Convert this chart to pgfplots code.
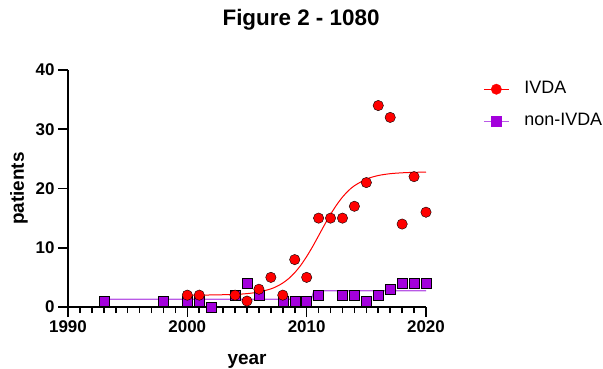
\documentclass[border=0pt]{standalone}
\usepackage{fontspec}
\setmainfont{Liberation Sans}
\usepackage{pgfplots}
\pgfplotsset{compat=1.18}
\definecolor{ivda}{RGB}{255,0,0}
\definecolor{nonivda}{RGB}{163,0,220}
\definecolor{nonline}{RGB}{185,90,230}
\begin{document}
\begin{tikzpicture}
\path[use as bounding box] (0,0) rectangle (603bp,369bp);
\begin{axis}[
  at={(68bp,62bp)}, anchor=south west,
  scale only axis, width=358bp, height=237bp,
  xmin=1990, xmax=2020, ymin=0, ymax=40,
  axis lines*=left,
  axis line style={line width=1.8bp, -},
  xtick={1990,2000,2010,2020},
  minor x tick num=9,
  ytick={0,10,20,30,40},
  tick align=outside,
  major tick length=10bp, minor tick length=6bp,
  every tick/.style={line width=1.6bp, black},
  minor tick style={line width=1.6bp, black},
  clip=false,
  /pgf/number format/assume math mode=true,
  /pgf/number format/1000 sep={},
  ticklabel style={font=\bfseries\fontsize{17}{17}\selectfont},
  xlabel={year}, ylabel={patients},
  label style={font=\bfseries\fontsize{19}{19}\selectfont},
  xlabel style={at={(axis description cs:0.5,-0.242)}, anchor=base, inner sep=0pt},
  ylabel style={at={(axis description cs:-0.112,0.5)}, anchor=south, inner sep=0pt},
  title={Figure 2 - 1080},
  title style={font=\bfseries\fontsize{22.5}{22.5}\selectfont, at={(axis description cs:0.651,1)}, anchor=base, yshift=39bp, inner sep=0pt},
  reverse legend,
  legend cell align=left,
  legend style={at={(axis description cs:1.151,0.964)}, anchor=north west, draw=none, fill=none,
    font=\fontsize{18}{18}\selectfont, row sep=15bp, column sep=15bp,
    nodes={inner sep=0pt, text height=13bp, text depth=4bp}},
]
% non-IVDA fit line
\addplot[nonline, line width=1.2bp, forget plot] coordinates {
  (1993,1.3) (2010.4,1.3) (2010.6,2.75) (2020,2.75)};
% non-IVDA points
\addplot[only marks, mark=square*, mark size=5bp, mark options={fill=nonivda, draw=none},
  legend image code/.code={\draw[nonline, line width=1.2bp] (0bp,0bp) -- (25bp,0bp);
    \fill[nonivda] (7.5bp,-5bp) rectangle (17.5bp,5bp);}] coordinates {
  (1993,1) (1998,1) (2000,1) (2001,1) (2002,0) (2004,2) (2005,4) (2006,2)
  (2008,1) (2009,1) (2010,1) (2011,2) (2013,2) (2014,2) (2015,1) (2016,2)
  (2017,3) (2018,4) (2019,4) (2020,4)};
\addlegendentry{non-IVDA}
% IVDA fit line
\addplot[ivda, line width=1bp, smooth, forget plot] coordinates {
  (2000,2.01) (2002,2.03) (2004,2.13) (2005,2.26) (2006,2.53) (2007,3.06)
  (2007.5,3.48) (2008,4.05) (2008.5,4.81) (2009,5.80) (2009.5,7.03) (2010,8.52)
  (2010.5,10.20) (2011,12.03) (2011.5,13.88) (2012,15.63) (2012.5,17.20)
  (2013,18.55) (2013.5,19.63) (2014,20.47) (2015,21.59) (2016,22.19)
  (2017,22.50) (2018,22.65) (2019,22.73) (2020,22.76)};
% IVDA points
\addplot[only marks, mark=*, mark size=5.2bp, mark options={fill=ivda, draw=none},
  legend image code/.code={\draw[ivda, line width=1bp] (0bp,0bp) -- (25bp,0bp);
    \fill[ivda] (12.5bp,0bp) circle (5.2bp);}] coordinates {
  (2000,2) (2001,2) (2004,2) (2005,1) (2006,3) (2007,5) (2008,2) (2009,8)
  (2010,5) (2011,15) (2012,15) (2013,15) (2014,17) (2015,21) (2016,34)
  (2017,32) (2018,14) (2019,22) (2020,16)};
\addlegendentry{IVDA}
\end{axis}
\end{tikzpicture}
\end{document}
